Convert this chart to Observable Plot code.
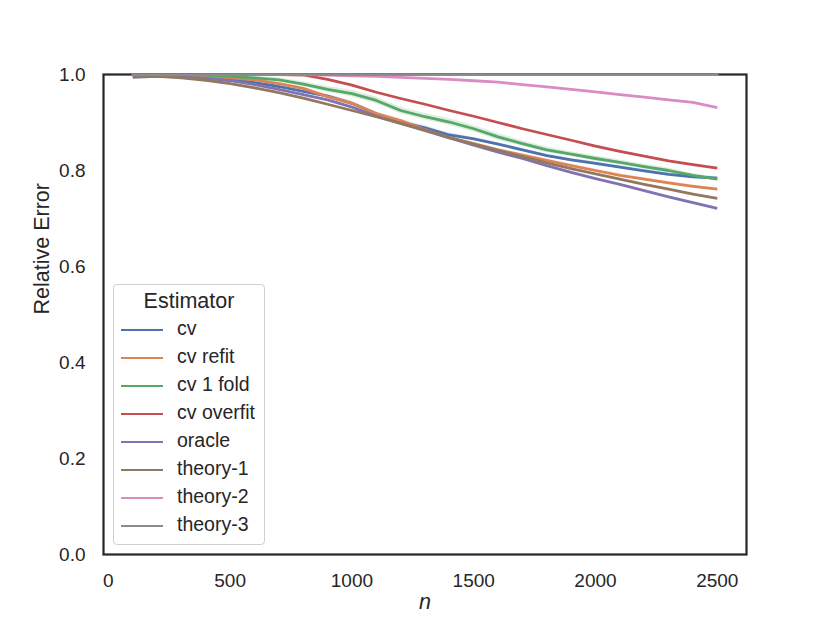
<!DOCTYPE html>
<html>
<head>
<meta charset="utf-8">
<script src="https://cdn.jsdelivr.net/npm/d3@7"></script>
<script src="https://cdn.jsdelivr.net/npm/@observablehq/plot@0.6"></script>
<style>
  html, body { margin: 0; padding: 0; background: #ffffff; }
  #wrap { position: relative; width: 830px; height: 623px; font-family: "Liberation Sans", Arial, sans-serif; color: #262626; }
  #legend { position: absolute; box-sizing: border-box; border: 1px solid #d0d0d0; border-radius: 4px; background: rgba(255,255,255,0.85); }
  #legend .title { position: absolute; left: 0; right: 0; text-align: center; font-size: 21.5px; line-height: 1; }
  #legend .sw { position: absolute; height: 2.7px; }
  #legend .lab { position: absolute; font-size: 19.5px; line-height: 1; white-space: nowrap; }
</style>
</head>
<body>
<div id="wrap"></div>
<script>
// ---- data ----
const nValues = [100,200,300,400,500,600,700,800,900,1000,1100,1200,1300,1400,1500,1600,1700,1800,1900,2000,2100,2200,2300,2400,2500];
const estimators = ["cv","cv refit","cv 1 fold","cv overfit","oracle","theory-1","theory-2","theory-3"];
const palette = ["#4C72B0","#DD8452","#55A868","#C44E52","#8172B3","#937860","#DA8BC3","#8C8C8C"];

const cv        = [0.998,0.998,0.997,0.995,0.990,0.983,0.975,0.965,0.955,0.940,0.918,0.901,0.889,0.874,0.866,0.855,0.843,0.831,0.822,0.815,0.807,0.799,0.792,0.787,0.784];
const cvRefit   = [0.998,0.998,0.997,0.996,0.993,0.989,0.981,0.971,0.954,0.940,0.918,0.904,0.885,0.868,0.856,0.843,0.832,0.821,0.810,0.800,0.790,0.782,0.774,0.767,0.761];
const cv1Fold   = [1.000,1.000,1.000,0.999,0.996,0.993,0.989,0.980,0.969,0.960,0.946,0.925,0.912,0.901,0.887,0.870,0.856,0.843,0.834,0.825,0.817,0.808,0.800,0.790,0.782];
const cvOverfit = [1.000,1.000,1.000,1.000,1.000,1.000,1.000,0.999,0.990,0.978,0.963,0.950,0.938,0.925,0.913,0.900,0.887,0.875,0.863,0.851,0.840,0.830,0.820,0.812,0.805];
const oracle    = [0.994,0.996,0.995,0.992,0.987,0.979,0.969,0.958,0.947,0.932,0.913,0.898,0.883,0.868,0.853,0.838,0.825,0.810,0.796,0.783,0.771,0.758,0.745,0.733,0.721];
const theory1   = [0.997,0.996,0.993,0.988,0.981,0.972,0.962,0.951,0.938,0.925,0.912,0.898,0.884,0.869,0.855,0.842,0.829,0.816,0.804,0.793,0.782,0.771,0.761,0.751,0.742];
const theory2   = [1.000,1.000,1.000,1.000,1.000,1.000,1.000,1.000,0.999,0.997,0.996,0.994,0.992,0.990,0.987,0.984,0.979,0.974,0.969,0.964,0.958,0.953,0.947,0.942,0.931];
const theory3   = [1.000,1.000,1.000,1.000,1.000,1.000,1.000,1.000,1.000,1.000,1.000,1.000,1.000,1.000,1.000,1.000,1.000,1.000,1.000,1.000,1.000,1.000,1.000,1.000,1.000];

// confidence band half-widths (only visible ones)
const cvCI      = [0.000,0.000,0.001,0.001,0.002,0.002,0.003,0.003,0.004,0.004,0.004,0.004,0.004,0.004,0.003,0.003,0.003,0.003,0.003,0.003,0.003,0.003,0.003,0.003,0.003];
const cvRefitCI = [0.000,0.000,0.001,0.001,0.002,0.002,0.003,0.003,0.004,0.004,0.004,0.004,0.004,0.003,0.003,0.003,0.003,0.003,0.003,0.003,0.003,0.003,0.003,0.003,0.003];
const cv1FoldCI = [0.000,0.000,0.000,0.001,0.002,0.003,0.004,0.005,0.006,0.007,0.007,0.007,0.007,0.007,0.007,0.007,0.006,0.006,0.005,0.005,0.005,0.005,0.005,0.004,0.004];

const xTicks = [0,500,1000,1500,2000,2500];
const yTicks = [0.0,0.2,0.4,0.6,0.8,1.0];

// ---- build tables ----
const seriesValues = [cv, cvRefit, cv1Fold, cvOverfit, oracle, theory1, theory2, theory3];
const rows = [];
seriesValues.forEach((vals, s) => vals.forEach((v, i) => rows.push({n: nValues[i], value: v, est: estimators[s]})));
const bandSeries = [[cv, cvCI, "cv"], [cvRefit, cvRefitCI, "cv refit"], [cv1Fold, cv1FoldCI, "cv 1 fold"]];
const bands = [];
bandSeries.forEach(([vals, ci, est]) => vals.forEach((v, i) => bands.push({n: nValues[i], lo: v - ci[i], hi: v + ci[i], est})));

const font = "'Liberation Sans', Arial, sans-serif";
const lw = 2.8;

const chart = Plot.plot({
  width: 830,
  height: 623,
  marginLeft: 103,
  marginRight: 84,
  marginTop: 74,
  marginBottom: 69,
  style: {fontFamily: font, color: "#262626", background: "#ffffff", overflow: "visible"},
  x: {domain: [-20, 2620]},
  y: {domain: [0, 1]},
  color: {domain: estimators, range: palette},
  marks: [
    Plot.areaY(bands, {x: "n", y1: "lo", y2: "hi", z: "est", fill: "est", fillOpacity: 0.2, clip: true}),
    Plot.line(rows.filter(d => d.est !== "theory-3"), {x: "n", y: "value", z: "est", stroke: "est", strokeWidth: lw, strokeLinejoin: "round", strokeLinecap: "butt", clip: true}),
    Plot.frame({stroke: "#262626", strokeWidth: 2.2}),
    Plot.line(rows.filter(d => d.est === "theory-3"), {x: "n", y: "value", z: "est", stroke: "est", strokeWidth: lw, clip: true}),
    Plot.axisX({ticks: xTicks, tickSize: 0, tickPadding: 19, fontSize: 19, label: null, tickFormat: d => String(d)}),
    Plot.axisY({ticks: yTicks, tickSize: 0, tickPadding: 18, fontSize: 19, label: null, tickFormat: d3.format(".1f")}),
    Plot.text(["n"], {frameAnchor: "bottom", dy: 54, fontSize: 21.5, fontStyle: "italic", fill: "#262626"}),
    Plot.text(["Relative Error"], {frameAnchor: "left", dx: -61.5, rotate: -90, fontSize: 21.5, fill: "#262626"})
  ]
});

const wrap = document.getElementById("wrap");
wrap.appendChild(chart);

// ---- legend (HTML overlay inside axes) ----
const legend = document.createElement("div");
legend.id = "legend";
Object.assign(legend.style, {left: "113px", top: "284px", width: "152px", height: "261px"});
const title = document.createElement("div");
title.className = "title";
title.textContent = "Estimator";
title.style.top = "6px";
legend.appendChild(title);
estimators.forEach((e, i) => {
  const cy = 45 + i * 28;
  const sw = document.createElement("div");
  sw.className = "sw";
  Object.assign(sw.style, {left: "7px", width: "42px", top: (cy - 1.35) + "px", background: palette[i]});
  legend.appendChild(sw);
  const lab = document.createElement("div");
  lab.className = "lab";
  lab.textContent = e;
  Object.assign(lab.style, {left: "63px", top: (cy - 11) + "px"});
  legend.appendChild(lab);
});
wrap.appendChild(legend);
</script>
</body>
</html>
